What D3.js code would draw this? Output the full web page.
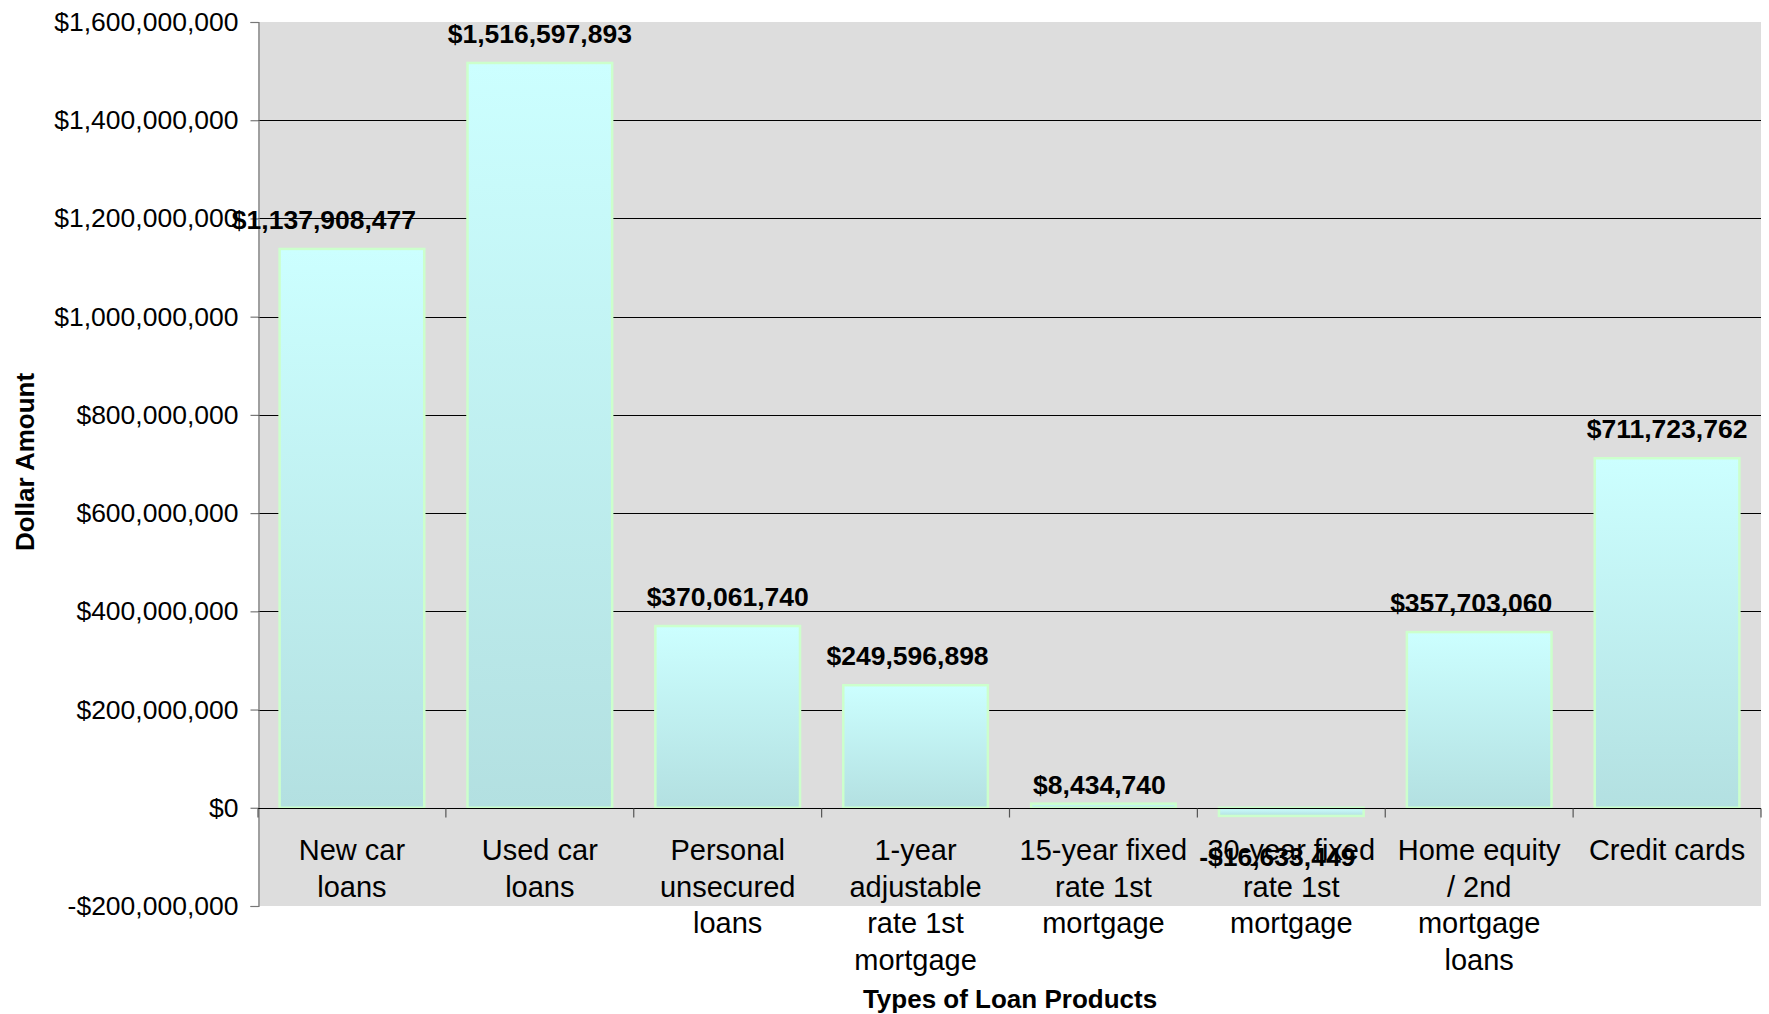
<!DOCTYPE html>
<html>
<head>
<meta charset="utf-8">
<script src="https://cdn.jsdelivr.net/npm/d3@7"></script>
<style>
  html, body { margin: 0; padding: 0; background: #ffffff; }
  svg { display: block; font-family: "Liberation Sans", Arial, sans-serif; }
</style>
</head>
<body>
<svg id="chart" width="1769" height="1014"></svg>
<script>
// Loan product categories (line breaks as displayed under the axis)
const categories = [
  "New car\nloans",
  "Used car\nloans",
  "Personal\nunsecured\nloans",
  "1-year\nadjustable\nrate 1st\nmortgage",
  "15-year fixed\nrate 1st\nmortgage",
  "30-year fixed\nrate 1st\nmortgage",
  "Home equity\n/ 2nd\nmortgage\nloans",
  "Credit cards"
];

// Dollar amount per loan product
const values = [
  1137908477,
  1516597893,
  370061740,
  249596898,
  8434740,
  -16633449,
  357703060,
  711723762
];

// Value-axis ticks
const yTicks = [-200000000, 0, 200000000, 400000000, 600000000, 800000000,
                1000000000, 1200000000, 1400000000, 1600000000];

const yTitle = "Dollar Amount";
const xTitle = "Types of Loan Products";

// ---- layout ----
const plot = { left: 258, right: 1761, top: 22, bottom: 906 };
const svg = d3.select("#chart");

const fmtNum = d3.format(",");
const money = v => (v < 0 ? "-$" : "$") + fmtNum(Math.abs(v));

const x = d3.scaleBand()
  .domain(d3.range(categories.length))
  .range([plot.left, plot.right])
  .paddingInner(0.23)
  .paddingOuter(0.115);

const y = d3.scaleLinear()
  .domain([yTicks[0], yTicks[yTicks.length - 1]])
  .range([plot.bottom, plot.top]);

// bar gradient: pale cyan at the top fading to a greyer teal at the base
const defs = svg.append("defs");
const grad = defs.append("linearGradient")
  .attr("id", "barFill")
  .attr("x1", 0).attr("y1", 0).attr("x2", 0).attr("y2", 1);
grad.append("stop").attr("offset", "0%").attr("stop-color", "#ccffff");
grad.append("stop").attr("offset", "100%").attr("stop-color", "#b3e0e1");

// plot background
svg.append("rect")
  .attr("x", plot.left).attr("y", plot.top)
  .attr("width", plot.right - plot.left)
  .attr("height", plot.bottom - plot.top)
  .attr("fill", "#dddddd");

// horizontal gridlines (interior positive ticks)
svg.append("g")
  .selectAll("line")
  .data(yTicks.filter(t => t > 0 && t < yTicks[yTicks.length - 1]))
  .join("line")
  .attr("x1", plot.left).attr("x2", plot.right)
  .attr("y1", d => Math.round(y(d)) + 0.5)
  .attr("y2", d => Math.round(y(d)) + 0.5)
  .attr("stroke", "#000000")
  .attr("stroke-width", 1);

// bars
svg.append("g")
  .selectAll("rect")
  .data(values)
  .join("rect")
  .attr("x", (d, i) => x(i))
  .attr("width", x.bandwidth())
  .attr("y", d => y(Math.max(d, 0)))
  .attr("height", d => Math.abs(y(d) - y(0)))
  .attr("fill", "url(#barFill)")
  .attr("stroke", "#ccffcc")
  .attr("stroke-width", 2.5);

// value axis
const yAxis = d3.axisLeft(y)
  .tickValues(yTicks)
  .tickFormat(money)
  .tickSize(8)
  .tickPadding(12);

const yAxisG = svg.append("g")
  .attr("transform", `translate(${plot.left + 0.5},0)`)
  .call(yAxis);
yAxisG.select(".domain").attr("stroke", "#777777").attr("stroke-width", 1.2);
yAxisG.selectAll(".tick line").attr("stroke", "#777777").attr("stroke-width", 1.2);
yAxisG.selectAll(".tick text")
  .attr("font-family", "'Liberation Sans', Arial, sans-serif")
  .attr("font-size", 26.5)
  .attr("fill", "#000000");

// category axis along the zero line
const zeroY = Math.round(y(0)) + 0.5;
svg.append("line")
  .attr("x1", plot.left).attr("x2", plot.right)
  .attr("y1", zeroY).attr("y2", zeroY)
  .attr("stroke", "#000000").attr("stroke-width", 1.2);

const step = x.step();
svg.append("g")
  .selectAll("line")
  .data(d3.range(categories.length + 1))
  .join("line")
  .attr("x1", i => plot.left + i * step)
  .attr("x2", i => plot.left + i * step)
  .attr("y1", zeroY).attr("y2", zeroY + 9)
  .attr("stroke", "#555555").attr("stroke-width", 1.2);

// category labels
const catG = svg.append("g")
  .attr("font-size", 29)
  .attr("text-anchor", "middle")
  .attr("fill", "#000000");
categories.forEach((c, i) => {
  const t = catG.append("text")
    .attr("x", x(i) + x.bandwidth() / 2)
    .attr("y", 860);
  c.split("\n").forEach((line, k) => {
    t.append("tspan")
      .attr("x", x(i) + x.bandwidth() / 2)
      .attr("dy", k === 0 ? 0 : 36.5)
      .text(line);
  });
});

// data labels (a few are shifted the way the original layout placed them)
const labelShift = { 0: [-28, 0], 3: [-8, 0], 4: [-4, 10], 5: [-14, 0], 6: [-8, 0] };
svg.append("g")
  .selectAll("text")
  .data(values)
  .join("text")
  .attr("x", (d, i) => x(i) + x.bandwidth() / 2 + (labelShift[i] ? labelShift[i][0] : 0))
  .attr("y", (d, i) => (d >= 0 ? y(d) - 20 : y(d) + 50) + (labelShift[i] ? labelShift[i][1] : 0))
  .attr("text-anchor", "middle")
  .attr("font-size", 26.5)
  .attr("font-weight", "bold")
  .attr("fill", "#000000")
  .text(d => money(d));

// axis titles
svg.append("text")
  .attr("transform", "translate(34,462) rotate(-90)")
  .attr("text-anchor", "middle")
  .attr("font-size", 26)
  .attr("font-weight", "bold")
  .text(yTitle);

svg.append("text")
  .attr("x", 1010)
  .attr("y", 1008)
  .attr("text-anchor", "middle")
  .attr("font-size", 26)
  .attr("font-weight", "bold")
  .text(xTitle);
</script>
</body>
</html>
